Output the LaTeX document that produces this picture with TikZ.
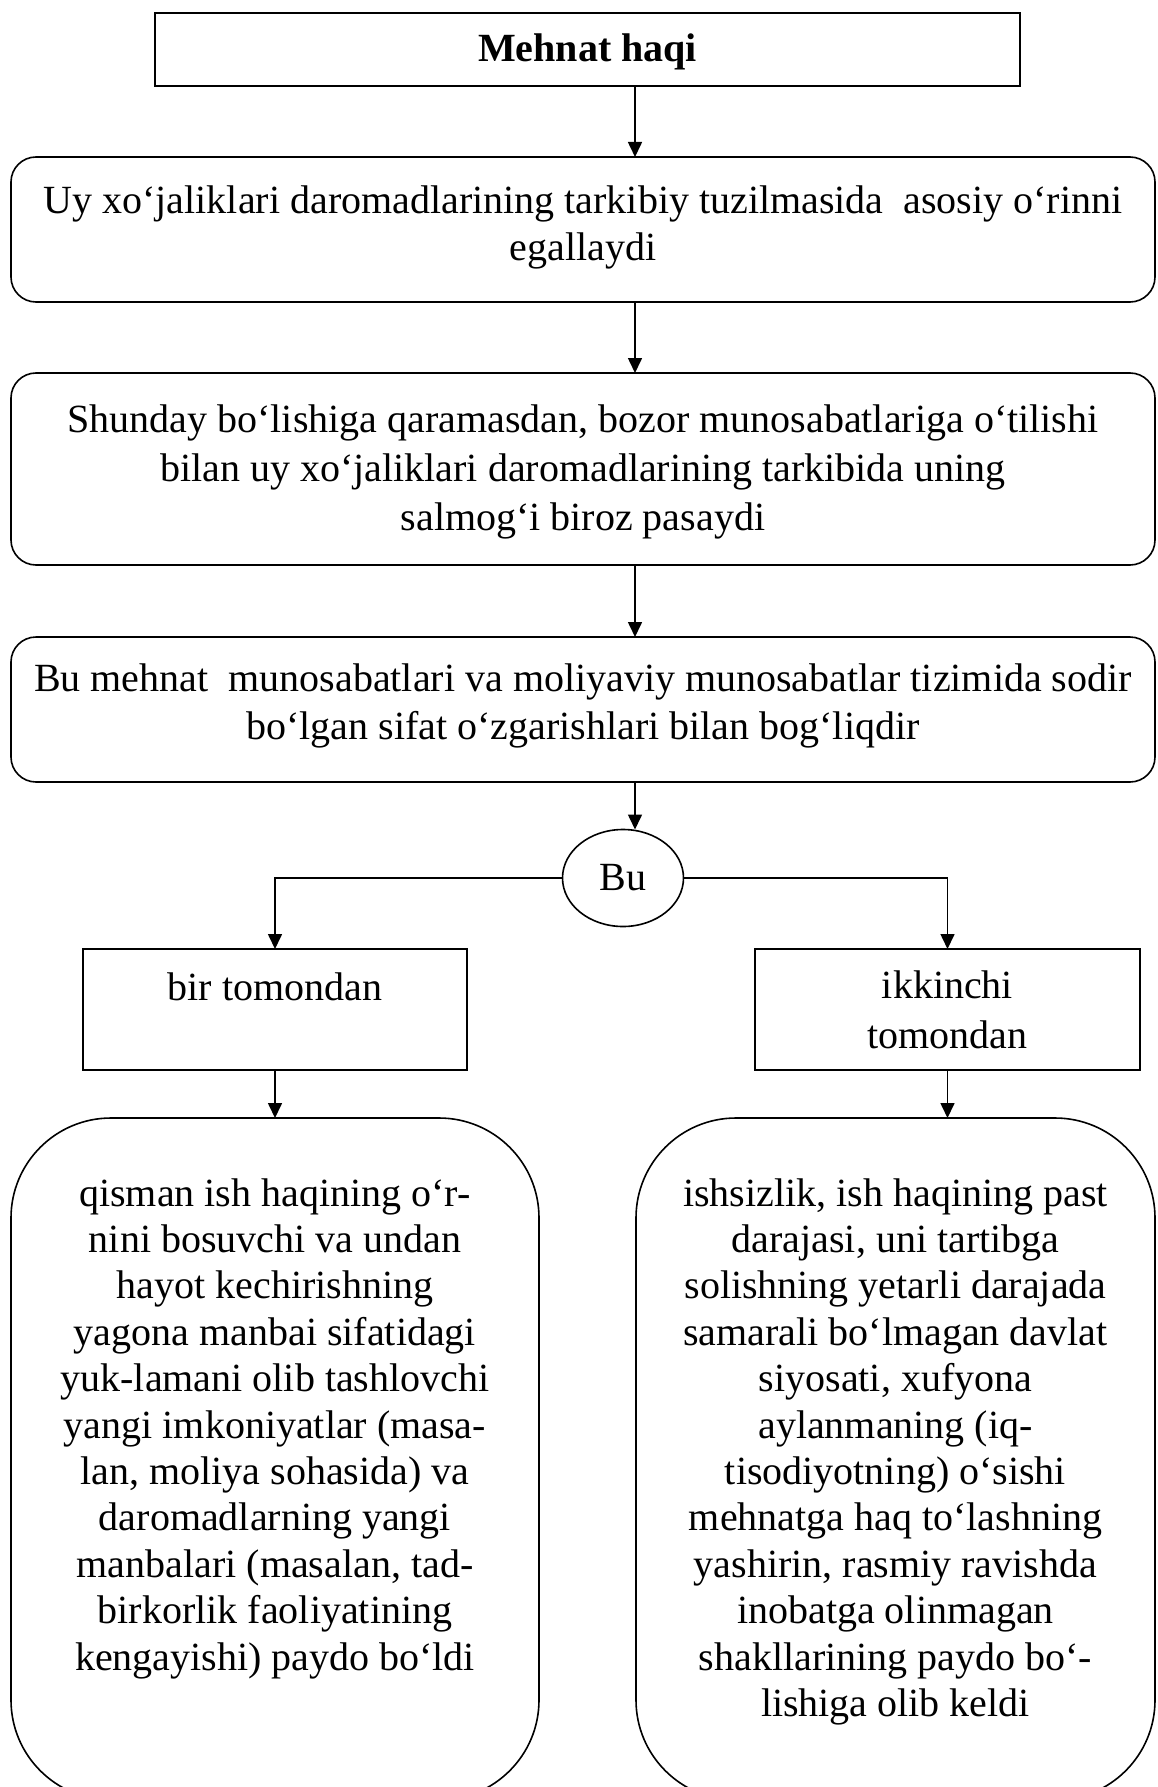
\documentclass[tikz,border=0pt]{standalone}
\usepackage{fontspec}
\setmainfont{Liberation Serif}
\usetikzlibrary{arrows.meta,shapes.geometric}
% width, height, baselineskip, first-baseline offset, text
\newcommand\bxt[5]{\parbox[c][#2][t]{#1}{\centering\fontsize{20pt}{#3}\selectfont\rule{0pt}{#4}#5\par}}
\tikzset{
  plainbox/.style={draw, line width=0.8pt, inner sep=0pt, outer sep=0pt},
  roundbox/.style={plainbox, rounded corners=12.5pt},
  bigbox/.style={plainbox, rounded corners=50pt},
  arr/.style={line width=0.8pt, -{Triangle[length=7.5pt,width=7pt]}}
}
\begin{document}
\begin{tikzpicture}[x=0.5pt,y=-0.5pt]
\useasboundingbox (0,0) rectangle (1157,1787);
\clip (0,0) rectangle (1157,1787);
\fill[white] (0,0) rectangle (1157,1787);

\node[plainbox, line width=1pt] (top) at (587.5,49.5)
  {\bxt{432.5pt}{36.5pt}{24pt}{24.5pt}{\bfseries Mehnat haqi}};

\node[roundbox] (b2) at (583,229.5)
  {\bxt{572pt}{72.5pt}{23.5pt}{28.5pt}{Uy xo‘jaliklari daromadlarining tarkibiy tuzilmasida~ asosiy o‘rinni\\egallaydi}};

\node[roundbox] (b3) at (583,469)
  {\bxt{572pt}{96pt}{24.5pt}{29.5pt}{Shunday bo‘lishiga qaramasdan, bozor munosabatlariga o‘tilishi\\bilan uy xo‘jaliklari daromadlarining tarkibida uning\\salmog‘i biroz pasaydi}};

\node[roundbox] (b4) at (583,709.5)
  {\bxt{572pt}{72.5pt}{24pt}{27pt}{Bu mehnat~ munosabatlari va moliyaviy munosabatlar tizimida sodir\\bo‘lgan sifat o‘zgarishlari bilan bog‘liqdir}};

\node[draw, ellipse, line width=0.8pt, minimum width=60.5pt, minimum height=48.5pt,
      inner sep=0pt, outer sep=0pt, font=\fontsize{20pt}{24pt}\selectfont] (bu) at (623,878) {Bu};

\node[plainbox] (bir) at (275,1009.5)
  {\bxt{192pt}{60.5pt}{25pt}{25.5pt}{bir tomondan}};
\node[plainbox] (ikk) at (947.5,1009.5)
  {\bxt{192.5pt}{60.5pt}{25pt}{24.5pt}{ikkinchi\\tomondan}};

\node[bigbox] (ql) at (275,1459)
  {\bxt{264pt}{341pt}{23.2pt}{44pt}{qisman ish haqining o‘r-\\nini bosuvchi va undan\\hayot kechirishning\\yagona manbai sifatidagi\\yuk-lamani olib tashlovchi\\yangi imkoniyatlar (masa-\\lan, moliya sohasida) va\\daromadlarning yangi\\manbalari (masalan, tad-\\birkorlik faoliyatining\\kengayishi) paydo bo‘ldi}};

\node[bigbox] (qr) at (895.5,1459)
  {\bxt{259.5pt}{341pt}{23.2pt}{44pt}{ishsizlik, ish haqining past\\darajasi, uni tartibga\\solishning yetarli darajada\\samarali bo‘lmagan davlat\\siyosati, xufyona\\aylanmaning (iq-\\tisodiyotning) o‘sishi\\mehnatga haq to‘lashning\\yashirin, rasmiy ravishda\\inobatga olinmagan\\shakllarining paydo bo‘-\\lishiga olib keldi}};

\coordinate (spine) at (635,0);
\draw[arr] (top.south -| spine) -- (b2.north -| spine);
\draw[arr] (b2.south -| spine) -- (b3.north -| spine);
\draw[arr] (b3.south -| spine) -- (b4.north -| spine);
\draw[arr] (b4.south -| spine) -- (bu.north -| spine);
\draw[arr] (bu.west) -| (bir.north);
\draw[arr] (bu.east) -| (ikk.north);
\draw[arr] (bir.south) -- (ql.north);
\draw[arr] (ikk.south) -- (ikk.south |- qr.north);
\end{tikzpicture}
\end{document}
